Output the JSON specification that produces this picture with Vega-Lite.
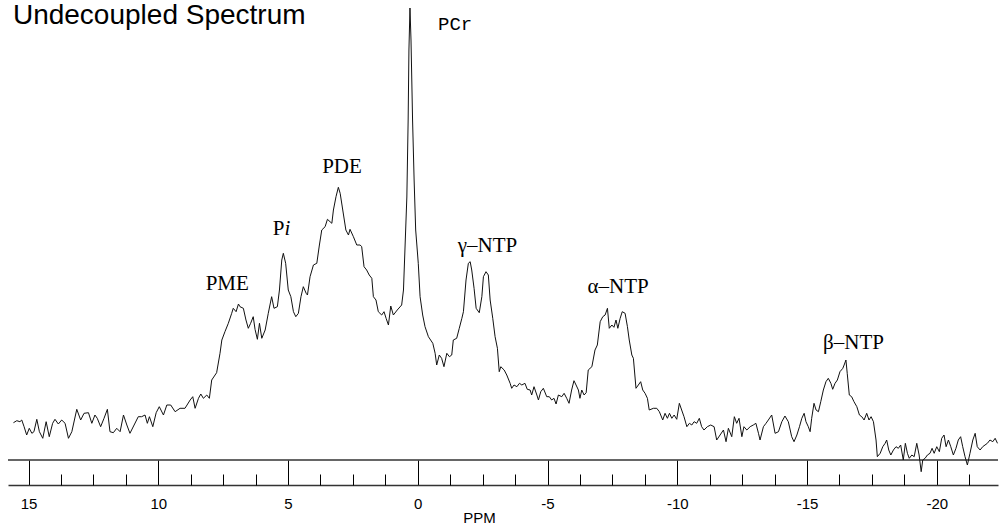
{
  "$schema": "https://vega.github.io/schema/vega-lite/v6.json",
  "width": 990,
  "height": 485,
  "autosize": "none",
  "padding": {"left": 8, "top": 0, "right": 1, "bottom": 41},
  "background": "white",
  "config": {"view": {"stroke": null}},
  "datasets": {
    "spectrum": [
      {"p":15.58,"v":62.3},{"p":15.45,"v":64.3},{"p":15.33,"v":63.3},{"p":15.26,"v":65},{"p":15.17,"v":58.3},{"p":15.07,"v":50},{"p":14.97,"v":56.7},{"p":14.87,"v":51.7},{"p":14.79,"v":53.3},{"p":14.68,"v":65.7},{"p":14.58,"v":53.3},{"p":14.45,"v":46.7},{"p":14.32,"v":63.3},{"p":14.2,"v":48.3},{"p":14.07,"v":61.7},{"p":13.98,"v":65.7},{"p":13.85,"v":61},{"p":13.72,"v":65},{"p":13.59,"v":61.7},{"p":13.46,"v":46.7},{"p":13.33,"v":53.3},{"p":13.14,"v":75.7},{"p":12.99,"v":65},{"p":12.86,"v":71.7},{"p":12.69,"v":72.3},{"p":12.56,"v":61.7},{"p":12.44,"v":70},{"p":12.35,"v":66.7},{"p":12.22,"v":58.3},{"p":12.09,"v":66.7},{"p":11.96,"v":75.7},{"p":11.86,"v":53.3},{"p":11.73,"v":52.3},{"p":11.6,"v":56.7},{"p":11.47,"v":53.3},{"p":11.34,"v":70},{"p":11.21,"v":60},{"p":11.09,"v":51.7},{"p":10.93,"v":60},{"p":10.77,"v":68.3},{"p":10.64,"v":68.3},{"p":10.51,"v":70},{"p":10.42,"v":61.7},{"p":10.34,"v":68.3},{"p":10.21,"v":58.3},{"p":10.08,"v":72.3},{"p":9.96,"v":78.3},{"p":9.8,"v":70},{"p":9.67,"v":80},{"p":9.52,"v":80},{"p":9.35,"v":73.3},{"p":9.16,"v":76.7},{"p":8.97,"v":76.7},{"p":8.77,"v":85},{"p":8.67,"v":88.3},{"p":8.58,"v":76.7},{"p":8.45,"v":86.7},{"p":8.36,"v":91},{"p":8.26,"v":86.7},{"p":8.13,"v":90},{"p":8.03,"v":86.7},
      {"p":7.94,"v":105},{"p":7.75,"v":112.3},{"p":7.62,"v":131.7},{"p":7.55,"v":145},{"p":7.43,"v":153.3},{"p":7.3,"v":161.7},{"p":7.17,"v":171.7},{"p":7.11,"v":176.7},{"p":7.0,"v":173.3},{"p":6.91,"v":181},{"p":6.85,"v":178.3},{"p":6.72,"v":176.7},{"p":6.62,"v":165},{"p":6.53,"v":156.7},{"p":6.44,"v":161.7},{"p":6.34,"v":168.3},{"p":6.27,"v":155.7},{"p":6.18,"v":145.7},{"p":6.1,"v":161.7},{"p":6.01,"v":146.7},{"p":5.88,"v":155},{"p":5.76,"v":171.7},{"p":5.63,"v":188.3},{"p":5.54,"v":176.7},{"p":5.41,"v":178.3},{"p":5.33,"v":195},{"p":5.24,"v":225},{"p":5.18,"v":231.7},{"p":5.09,"v":221.7},{"p":4.99,"v":195},{"p":4.89,"v":188.3},{"p":4.79,"v":173.3},{"p":4.7,"v":168.3},{"p":4.6,"v":171.7},{"p":4.5,"v":188.3},{"p":4.41,"v":198.3},{"p":4.3,"v":191.7},{"p":4.25,"v":190},{"p":4.15,"v":208.3},{"p":4.02,"v":220},{"p":3.89,"v":221.7},{"p":3.79,"v":240},{"p":3.7,"v":255},{"p":3.57,"v":258.3},{"p":3.48,"v":265.7},{"p":3.38,"v":263.3},{"p":3.31,"v":261.7},{"p":3.25,"v":275},{"p":3.15,"v":288.3},{"p":3.06,"v":297.7},{"p":2.99,"v":291.7},{"p":2.89,"v":275},{"p":2.77,"v":255},{"p":2.67,"v":250},{"p":2.61,"v":255.7},{"p":2.48,"v":248.3},{"p":2.35,"v":240},{"p":2.22,"v":240},{"p":2.16,"v":238.3},{"p":2.07,"v":218.3},{"p":1.97,"v":215},{"p":1.87,"v":210},{"p":1.77,"v":206.7},{"p":1.71,"v":188.3},{"p":1.61,"v":185},{"p":1.52,"v":173.3},{"p":1.39,"v":170},{"p":1.3,"v":173.3},{"p":1.22,"v":166.7},{"p":1.13,"v":160},{"p":1.04,"v":179},{"p":0.94,"v":170},{"p":0.79,"v":175},{"p":0.62,"v":180},{"p":0.55,"v":195},{"p":0.49,"v":238},{"p":0.42,"v":288},{"p":0.37,"v":365},{"p":0.34,"v":435},{"p":0.3,"v":477},{"p":0.26,"v":445},{"p":0.2,"v":365},{"p":0.14,"v":305},{"p":0.08,"v":255},{"p":-0.02,"v":221.7},{"p":-0.09,"v":188.3},{"p":-0.19,"v":170},{"p":-0.28,"v":158.3},{"p":-0.41,"v":148.3},{"p":-0.58,"v":141.7},{"p":-0.67,"v":131.7},{"p":-0.73,"v":120},{"p":-0.83,"v":130},{"p":-0.92,"v":126.7},{"p":-1.01,"v":118.3},{"p":-1.12,"v":131.7},{"p":-1.22,"v":128.3},{"p":-1.31,"v":130},{"p":-1.37,"v":145},{"p":-1.5,"v":146.7},{"p":-1.6,"v":156.7},{"p":-1.7,"v":166.7},{"p":-1.76,"v":173.3},{"p":-1.86,"v":205},{"p":-1.95,"v":221.7},{"p":-2.02,"v":223.3},{"p":-2.08,"v":215},{"p":-2.17,"v":196.7},{"p":-2.25,"v":176.7},{"p":-2.37,"v":172.3},{"p":-2.47,"v":188.3},{"p":-2.53,"v":208.3},{"p":-2.63,"v":213.3},{"p":-2.72,"v":210},{"p":-2.79,"v":185},{"p":-2.89,"v":166.7},{"p":-2.98,"v":148.3},{"p":-3.07,"v":136.7},{"p":-3.14,"v":113.3},{"p":-3.2,"v":118.3},{"p":-3.33,"v":115},{"p":-3.43,"v":110},{"p":-3.56,"v":101.7},{"p":-3.62,"v":96.7},{"p":-3.71,"v":100},{"p":-3.82,"v":98.3},{"p":-3.92,"v":101.7},{"p":-4.01,"v":100},{"p":-4.13,"v":101.7},{"p":-4.22,"v":95.7},{"p":-4.33,"v":95},{"p":-4.39,"v":90},{"p":-4.48,"v":98.3},{"p":-4.59,"v":90},{"p":-4.65,"v":85},{"p":-4.74,"v":93.3},{"p":-4.84,"v":96.7},{"p":-4.97,"v":88.3},{"p":-5.07,"v":88.3},{"p":-5.16,"v":85},{"p":-5.25,"v":86.7},{"p":-5.33,"v":81},{"p":-5.42,"v":90},{"p":-5.55,"v":88.3},{"p":-5.64,"v":91.7},{"p":-5.74,"v":86.7},{"p":-5.83,"v":81.7},{"p":-5.93,"v":95},{"p":-6.02,"v":104.3},{"p":-6.1,"v":100},{"p":-6.19,"v":95},{"p":-6.25,"v":86.7},{"p":-6.32,"v":95},{"p":-6.41,"v":90},{"p":-6.49,"v":92.3},{"p":-6.57,"v":115},{"p":-6.71,"v":118.3},{"p":-6.83,"v":135},{"p":-6.92,"v":140},{"p":-7.03,"v":163.3},{"p":-7.13,"v":168.3},{"p":-7.22,"v":170},{"p":-7.31,"v":176.7},{"p":-7.38,"v":156.7},{"p":-7.48,"v":160},{"p":-7.56,"v":157.7},{"p":-7.64,"v":165},{"p":-7.71,"v":156.7},{"p":-7.8,"v":166.7},{"p":-7.88,"v":173.3},{"p":-7.99,"v":171.7},{"p":-8.08,"v":158.3},{"p":-8.15,"v":145},{"p":-8.25,"v":130},{"p":-8.31,"v":126.7},{"p":-8.41,"v":96.7},{"p":-8.5,"v":100},{"p":-8.59,"v":103.3},{"p":-8.67,"v":95},{"p":-8.76,"v":91.7},{"p":-8.85,"v":86.7},{"p":-8.92,"v":75},{"p":-9.08,"v":76.7},{"p":-9.21,"v":76.7},{"p":-9.31,"v":73.3},{"p":-9.44,"v":65},{"p":-9.53,"v":71.7},{"p":-9.62,"v":66.7},{"p":-9.7,"v":71.7},{"p":-9.79,"v":66.7},{"p":-9.88,"v":70},{"p":-9.98,"v":65.7},{"p":-10.08,"v":81.7},{"p":-10.17,"v":75},{"p":-10.26,"v":68.3},{"p":-10.37,"v":58.3},{"p":-10.47,"v":61.7},{"p":-10.56,"v":60},{"p":-10.65,"v":63.3},{"p":-10.75,"v":61.7},{"p":-10.85,"v":66.7},{"p":-10.94,"v":58.3},{"p":-11.03,"v":55},{"p":-11.16,"v":58.3},{"p":-11.29,"v":60},{"p":-11.42,"v":58.3},{"p":-11.52,"v":45},{"p":-11.65,"v":50},{"p":-11.78,"v":55},{"p":-11.88,"v":43.3},{"p":-11.97,"v":56.7},{"p":-12.1,"v":48.3},{"p":-12.2,"v":68.3},{"p":-12.29,"v":61.7},{"p":-12.38,"v":66.7},{"p":-12.49,"v":48.3},{"p":-12.57,"v":58.3},{"p":-12.68,"v":55},{"p":-12.81,"v":58.3},{"p":-12.93,"v":60},{"p":-13.03,"v":61.7},{"p":-13.13,"v":51.7},{"p":-13.19,"v":45},{"p":-13.32,"v":58.3},{"p":-13.42,"v":61.7},{"p":-13.51,"v":65},{"p":-13.64,"v":70},{"p":-13.77,"v":51.7},{"p":-13.9,"v":53.3},{"p":-14.03,"v":63.3},{"p":-14.15,"v":69},{"p":-14.28,"v":63.3},{"p":-14.41,"v":48.3},{"p":-14.5,"v":43.3},{"p":-14.61,"v":50},{"p":-14.71,"v":58.3},{"p":-14.8,"v":66.7},{"p":-14.89,"v":71.7},{"p":-14.96,"v":63.3},{"p":-15.05,"v":58.3},{"p":-15.12,"v":53.3},{"p":-15.18,"v":66.7},{"p":-15.27,"v":81.7},{"p":-15.35,"v":75},{"p":-15.44,"v":73.3},{"p":-15.53,"v":83.3},{"p":-15.63,"v":95},{"p":-15.73,"v":103.3},{"p":-15.82,"v":106.7},{"p":-15.92,"v":101.7},{"p":-15.99,"v":95.7},{"p":-16.08,"v":101.7},{"p":-16.17,"v":105},{"p":-16.27,"v":113.3},{"p":-16.38,"v":116.7},{"p":-16.43,"v":120},{"p":-16.5,"v":125},{"p":-16.55,"v":111.7},{"p":-16.63,"v":90},{"p":-16.72,"v":88.3},{"p":-16.81,"v":83.3},{"p":-16.92,"v":78.3},{"p":-17.02,"v":70},{"p":-17.11,"v":68.3},{"p":-17.2,"v":65},{"p":-17.3,"v":71.7},{"p":-17.39,"v":65},{"p":-17.47,"v":68.3},{"p":-17.56,"v":63.3},{"p":-17.66,"v":45},{"p":-17.71,"v":28.3},{"p":-17.82,"v":31.7},{"p":-17.92,"v":38.3},{"p":-18.01,"v":41.7},{"p":-18.07,"v":45},{"p":-18.15,"v":35},{"p":-18.23,"v":30},{"p":-18.33,"v":35},{"p":-18.43,"v":38.3},{"p":-18.52,"v":36.7},{"p":-18.61,"v":40},{"p":-18.71,"v":25},{"p":-18.79,"v":41.7},{"p":-18.87,"v":31.7},{"p":-18.94,"v":26.7},{"p":-19.04,"v":30},{"p":-19.13,"v":28.3},{"p":-19.23,"v":41.7},{"p":-19.32,"v":30},{"p":-19.4,"v":13.3},{"p":-19.46,"v":25},{"p":-19.55,"v":26.7},{"p":-19.64,"v":30},{"p":-19.74,"v":31.7},{"p":-19.82,"v":36.7},{"p":-19.9,"v":31.7},{"p":-20.0,"v":38.3},{"p":-20.1,"v":33.3},{"p":-20.19,"v":46.7},{"p":-20.28,"v":50},{"p":-20.36,"v":38.3},{"p":-20.45,"v":45},{"p":-20.54,"v":38.3},{"p":-20.64,"v":30},{"p":-20.74,"v":36.7},{"p":-20.83,"v":45},{"p":-20.92,"v":48.3},{"p":-21.0,"v":38.3},{"p":-21.09,"v":28.3},{"p":-21.18,"v":20},{"p":-21.28,"v":31.7},{"p":-21.39,"v":45},{"p":-21.48,"v":51.7},{"p":-21.56,"v":38.3},{"p":-21.67,"v":35},{"p":-21.77,"v":38.3},{"p":-21.86,"v":40},{"p":-21.95,"v":41.7},{"p":-22.05,"v":45},{"p":-22.16,"v":43.3},{"p":-22.25,"v":46.7},{"p":-22.34,"v":41.7}
    ],
    "serifLabels": [
      {"p":2.92,"v":311.7,"t":"PDE"},
      {"p":7.34,"v":195,"t":"PME"},
      {"p":5.36,"v":250,"t":"P"},
      {"p":-2.69,"v":233.3,"t":"γ–NTP"},
      {"p":-7.72,"v":192,"t":"α–NTP"},
      {"p":-16.79,"v":136,"t":"β–NTP"}
    ],
    "italicLabels": [
      {"p":5.02,"v":250,"t":"i"}
    ],
    "monoLabels": [
      {"p":-1.44,"v":455.5,"t":"PCr"}
    ],
    "heading": [
      {"t":"Undecoupled Spectrum"}
    ]
  },
  "layer": [
    {
      "data": {"name": "heading"},
      "mark": {"type": "rule", "color": "#333333", "strokeWidth": 1.5},
      "encoding": {
        "y": {"datum": 25, "type": "quantitative", "scale": {"domain": [0, 485], "nice": false, "zero": false}, "axis": null}
      }
    },
    {
      "data": {"name": "spectrum"},
      "mark": {"type": "line", "color": "#111111", "strokeWidth": 1, "interpolate": "linear"},
      "encoding": {
        "x": {
          "field": "p", "type": "quantitative",
          "scale": {"domain": [-22.36, 15.79], "reverse": true, "nice": false, "zero": false},
          "axis": {
            "orient": "bottom",
            "values": [15, 10, 5, 0, -5, -10, -15, -20],
            "tickSize": -25, "tickColor": "black", "tickWidth": 1,
            "domain": true, "domainColor": "#333333", "domainWidth": 1.5,
            "grid": false,
            "labelExpr": "toString(datum.value)",
            "labelFont": "Liberation Sans", "labelFontSize": 15, "labelColor": "black",
            "labelPadding": 36, "labelFlush": false, "labelOverlap": false,
            "title": "PPM", "titleFont": "Liberation Sans", "titleFontSize": 15, "titleFontWeight": "normal",
            "titleColor": "black", "titleX": 471, "titleY": 37, "titleBaseline": "alphabetic", "titleAlign": "center"
          }
        },
        "y": {"field": "v", "type": "quantitative", "scale": {"domain": [0, 485], "nice": false, "zero": false}, "axis": null}
      }
    },
    {
      "data": {"name": "monoLabels"},
      "mark": {"type": "text", "font": "Liberation Mono", "fontSize": 19, "align": "center", "baseline": "alphabetic", "color": "black"},
      "encoding": {
        "x": {
          "field": "p", "type": "quantitative",
          "axis": {
            "orient": "bottom",
            "values": [13.75, 12.5, 11.25, 8.75, 7.5, 6.25, 3.75, 2.5, 1.25, -1.25, -2.5, -3.75, -6.25, -7.5, -8.75, -11.25, -12.5, -13.75, -16.25, -17.5, -18.75, -21.25],
            "tickSize": -11, "tickColor": "black", "tickWidth": 1,
            "labels": false, "domain": false, "grid": false, "title": null
          }
        },
        "y": {"field": "v", "type": "quantitative", "axis": null},
        "text": {"field": "t"}
      }
    },
    {
      "data": {"name": "serifLabels"},
      "mark": {"type": "text", "font": "Liberation Serif", "fontSize": 21, "align": "center", "baseline": "alphabetic", "color": "black"},
      "encoding": {
        "x": {"field": "p", "type": "quantitative", "axis": null},
        "y": {"field": "v", "type": "quantitative", "axis": null},
        "text": {"field": "t"}
      }
    },
    {
      "data": {"name": "italicLabels"},
      "mark": {"type": "text", "font": "Liberation Serif", "fontSize": 21, "fontStyle": "italic", "align": "center", "baseline": "alphabetic", "color": "black"},
      "encoding": {
        "x": {"field": "p", "type": "quantitative", "axis": null},
        "y": {"field": "v", "type": "quantitative", "axis": null},
        "text": {"field": "t"}
      }
    },
    {
      "data": {"name": "heading"},
      "mark": {"type": "text", "font": "Liberation Sans", "fontSize": 28, "align": "left", "baseline": "alphabetic", "color": "black"},
      "encoding": {
        "x": {"datum": 15.6, "type": "quantitative", "axis": null},
        "y": {"datum": 461, "type": "quantitative", "axis": null},
        "text": {"field": "t"}
      }
    }
  ],
  "resolve": {"axis": {"x": "independent"}}
}
